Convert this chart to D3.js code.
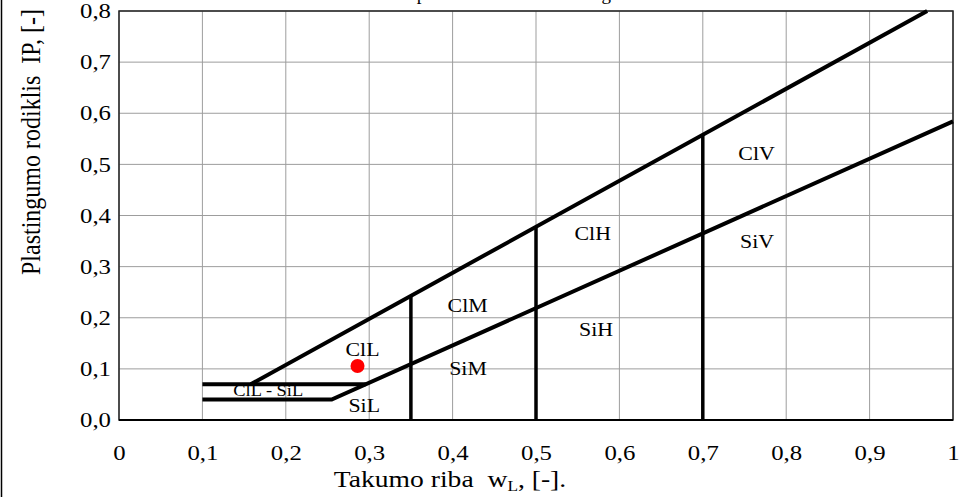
<!DOCTYPE html>
<html>
<head>
<meta charset="utf-8">
<script src="https://cdn.jsdelivr.net/npm/d3@7"></script>
<style>
  html, body { margin: 0; padding: 0; background: #fff; }
  svg { display: block; font-family: "Liberation Serif", "Times New Roman", serif; }
</style>
</head>
<body>
<svg id="chart" width="975" height="497"></svg>
<script>
// Plasticity chart: liquid limit wL vs plasticity index IP
const xTicks = [0, 0.1, 0.2, 0.3, 0.4, 0.5, 0.6, 0.7, 0.8, 0.9, 1];
const yTicks = [0, 0.1, 0.2, 0.3, 0.4, 0.5, 0.6, 0.7, 0.8];
const xTickLabels = ["0", "0,1", "0,2", "0,3", "0,4", "0,5", "0,6", "0,7", "0,8", "0,9", "1"];
const yTickLabels = ["0,0", "0,1", "0,2", "0,3", "0,4", "0,5", "0,6", "0,7", "0,8"];

// Boundary lines [wL, IP]
const upperLine = [[0.158, 0.07], [0.969, 0.8]];
const upperShelf = [[0.1, 0.07], [0.296, 0.07]];
const aLine = [[0.1, 0.04], [0.255, 0.04], [1.0, 0.584]];
const dividers = [
  [[0.35, 0], [0.35, 0.2445]],
  [[0.5, 0], [0.5, 0.378]],
  [[0.7, 0], [0.7, 0.558]]
];

// Soil group labels [text, wL, IP, size]
const zoneLabels = [
  ["ClL", 0.292, 0.125, 19],
  ["ClL - SiL", 0.179, 0.047, 16],
  ["SiL", 0.294, 0.016, 19],
  ["SiM", 0.4185, 0.088, 19],
  ["ClM", 0.418, 0.212, 19],
  ["ClH", 0.568, 0.352, 19],
  ["SiH", 0.572, 0.164, 19],
  ["ClV", 0.7645, 0.509, 19],
  ["SiV", 0.765, 0.336, 19]
];

// Sample point
const samples = [[0.286, 0.1055]];

const WIDEN = 1.15; // glyphs are set slightly wide

const svg = d3.select("#chart");
const x = d3.scaleLinear().domain([0, 1]).range([119, 953]);
const y = d3.scaleLinear().domain([0, 0.8]).range([420, 11]);

function widen(sel, k = WIDEN) {
  sel.each(function () {
    const w = this.getComputedTextLength();
    d3.select(this).attr("textLength", w * k).attr("lengthAdjust", "spacingAndGlyphs");
  });
}

// outer frame edge on the left
svg.append("line").attr("x1", 1.5).attr("x2", 1.5).attr("y1", 0).attr("y2", 497)
  .attr("stroke", "#000").attr("stroke-width", 1.5);

// title (mostly above the top edge)
svg.append("text").attr("x", 503.5).attr("y", 0)
  .attr("text-anchor", "middle").attr("font-size", 19)
  .text("Grunto plastiškumo rodiklio diagrama");

// grid
const grid = svg.append("g").attr("stroke", "#9d9d9d").attr("stroke-width", 1);
grid.selectAll("line.v").data(xTicks).join("line").attr("class", "v")
  .attr("x1", d => x(d)).attr("x2", d => x(d)).attr("y1", y(0)).attr("y2", y(0.8));
grid.selectAll("line.h").data(yTicks).join("line").attr("class", "h")
  .attr("x1", x(0)).attr("x2", x(1)).attr("y1", d => y(d)).attr("y2", d => y(d));

// frame
svg.append("rect").attr("x", x(0)).attr("y", y(0.8))
  .attr("width", x(1) - x(0)).attr("height", y(0) - y(0.8))
  .attr("fill", "none").attr("stroke", "#222").attr("stroke-width", 1.5);
svg.append("line").attr("x1", x(0)).attr("x2", x(1)).attr("y1", y(0)).attr("y2", y(0))
  .attr("stroke", "#000").attr("stroke-width", 2);

// tick labels via d3 axes
const xAxis = d3.axisBottom(x).tickValues(xTicks)
  .tickFormat((d, i) => xTickLabels[i]).tickSize(0).tickPadding(0);
const gx = svg.append("g").attr("transform", `translate(0,${y(0)})`).call(xAxis);
gx.select(".domain").remove();
gx.selectAll("text").attr("font-family", "Liberation Serif, serif")
  .attr("font-size", 21).attr("fill", "#000").attr("dy", null).attr("y", 39.5)
  .call(widen, 1.18);

const yAxis = d3.axisLeft(y).tickValues(yTicks)
  .tickFormat((d, i) => yTickLabels[i]).tickSize(0).tickPadding(8);
const gy = svg.append("g").attr("transform", `translate(${x(0)},0)`).call(yAxis);
gy.select(".domain").remove();
gy.selectAll("text").attr("font-family", "Liberation Serif, serif")
  .attr("font-size", 21).attr("fill", "#000")
  .call(widen, 1.18);

// boundary lines
const line = d3.line().x(d => x(d[0])).y(d => y(d[1]));
const lines = svg.append("g").attr("fill", "none").attr("stroke", "#000");
lines.append("path").attr("d", line(upperLine)).attr("stroke-width", 4);
lines.append("path").attr("d", line(aLine)).attr("stroke-width", 4);
lines.selectAll("path.div").data(dividers).join("path").attr("class", "div")
  .attr("d", d => line(d)).attr("stroke-width", 3.5);

// zone labels
svg.append("g").selectAll("text").data(zoneLabels).join("text")
  .attr("x", d => x(d[1])).attr("y", d => y(d[2]))
  .attr("text-anchor", "middle").attr("font-size", d => d[3])
  .attr("fill", "#000").text(d => d[0])
  .call(widen);

// shelf drawn over the small label
svg.append("path").attr("d", line(upperShelf)).attr("fill", "none")
  .attr("stroke", "#000").attr("stroke-width", 4);

// sample point
svg.append("g").selectAll("circle").data(samples).join("circle")
  .attr("cx", d => x(d[0])).attr("cy", d => y(d[1])).attr("r", 7)
  .attr("fill", "#ff0000");

// axis titles
const xt = svg.append("text").attr("transform", `translate(450,487) scale(${WIDEN},1)`)
  .attr("text-anchor", "middle").attr("font-size", 24);
xt.append("tspan").text("Takumo riba\u00a0\u00a0w");
xt.append("tspan").attr("font-size", 15).attr("dy", 4).text("L");
xt.append("tspan").attr("dy", -4).text(", [-].");

svg.append("text").attr("transform", `translate(40,142) scale(${WIDEN},1) rotate(-90)`)
  .attr("text-anchor", "middle").attr("font-size", 24)
  .text("Plastingumo rodiklis\u00a0\u00a0IP, [-]");
</script>
</body>
</html>
